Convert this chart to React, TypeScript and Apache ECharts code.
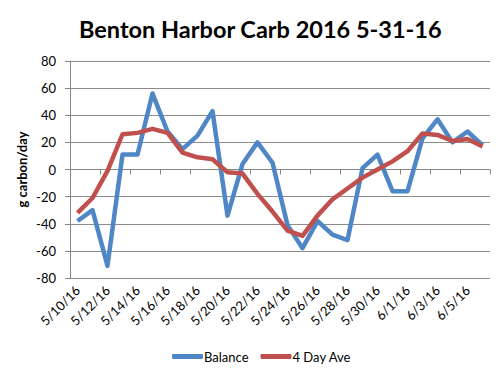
import React, { useEffect, useRef } from "react";
import * as echarts from "echarts";

const categories = [
  "5/10/16", "5/11/16", "5/12/16", "5/13/16", "5/14/16", "5/15/16", "5/16/16",
  "5/17/16", "5/18/16", "5/19/16", "5/20/16", "5/21/16", "5/22/16", "5/23/16",
  "5/24/16", "5/25/16", "5/26/16", "5/27/16", "5/28/16", "5/29/16", "5/30/16",
  "5/31/16", "6/1/16", "6/2/16", "6/3/16", "6/4/16", "6/5/16", "6/6/16",
];

const balance = [
  -38, -30, -71, 11, 11, 56, 28, 15, 25, 43, -34, 4, 20, 5,
  -41, -58, -38, -48, -52, 1, 11, -16, -16, 23, 37, 20, 28, 18,
];

const fourDayAve = [
  -32, -21, -1, 26, 27, 30, 27, 12.5, 9, 7.5, -2, -3, -18, -31,
  -45, -49, -34, -22, -14, -6, 0, 6, 13.5, 26.5, 25.5, 21, 22.5, 17,
];

const yTicks = { min: -80, max: 80, interval: 20 };

export default function App() {
  const ref = useRef<HTMLDivElement>(null);
  useEffect(() => {
    if (!ref.current) return;
    const chart = echarts.init(ref.current, null, { renderer: "svg" });
    const font = "Lato, 'Open Sans', sans-serif";
    chart.setOption({
      animation: false,
      backgroundColor: "#ffffff",
      title: {
        text: "Benton Harbor Carb 2016 5-31-16",
        left: 74,
        top: 12,
        textStyle: { fontFamily: font, fontWeight: "bold", fontSize: 23.5, color: "#000" },
      },
      grid: { left: 70, right: 10, top: 61, bottom: 97 },
      legend: {
        bottom: 7,
        left: 167,
        itemWidth: 31,
        itemHeight: 5,
        itemGap: 12,
        icon: "roundRect",
        textStyle: { fontFamily: font, fontSize: 13, color: "#000", padding: [0, 0, 0, -4] },
        data: ["Balance", "4 Day Ave"],
      },
      xAxis: {
        type: "category",
        data: categories,
        boundaryGap: true,
        axisLine: { lineStyle: { color: "#868686", width: 1 } },
        axisTick: { show: true, interval: 1, length: 5, lineStyle: { color: "#868686" } },
        axisLabel: {
          interval: 1,
          rotate: 45,
          fontFamily: font,
          fontSize: 13,
          color: "#000",
          margin: 10,
        },
        splitLine: { show: false },
      },
      yAxis: {
        type: "value",
        min: yTicks.min,
        max: yTicks.max,
        interval: yTicks.interval,
        name: "g carbon/day",
        nameLocation: "middle",
        nameGap: 42,
        nameMoveOverlap: false,
        nameTextStyle: { fontFamily: font, fontWeight: "bold", fontSize: 13, color: "#000" },
        axisLine: { show: true, lineStyle: { color: "#868686" } },
        axisTick: { show: true, length: 5, lineStyle: { color: "#868686" } },
        axisLabel: { fontFamily: font, fontSize: 13, color: "#000", margin: 14 },
        splitLine: { show: true, lineStyle: { color: "#8c8c8c", width: 1 } },
      },
      series: [
        {
          name: "Balance",
          type: "line",
          data: balance,
          symbol: "none",
          color: "#4F86C6",
          lineStyle: { width: 4.5, color: "#4F86C6", join: "round" },
        },
        {
          name: "4 Day Ave",
          type: "line",
          data: fourDayAve,
          symbol: "none",
          color: "#C0504D",
          lineStyle: { width: 4.5, color: "#C0504D", join: "round" },
        },
      ],
    });
    return () => chart.dispose();
  }, []);
  return (
    <div
      ref={ref}
      style={{ position: "fixed", left: 0, top: 0, width: 500, height: 375 }}
    />
  );
}
